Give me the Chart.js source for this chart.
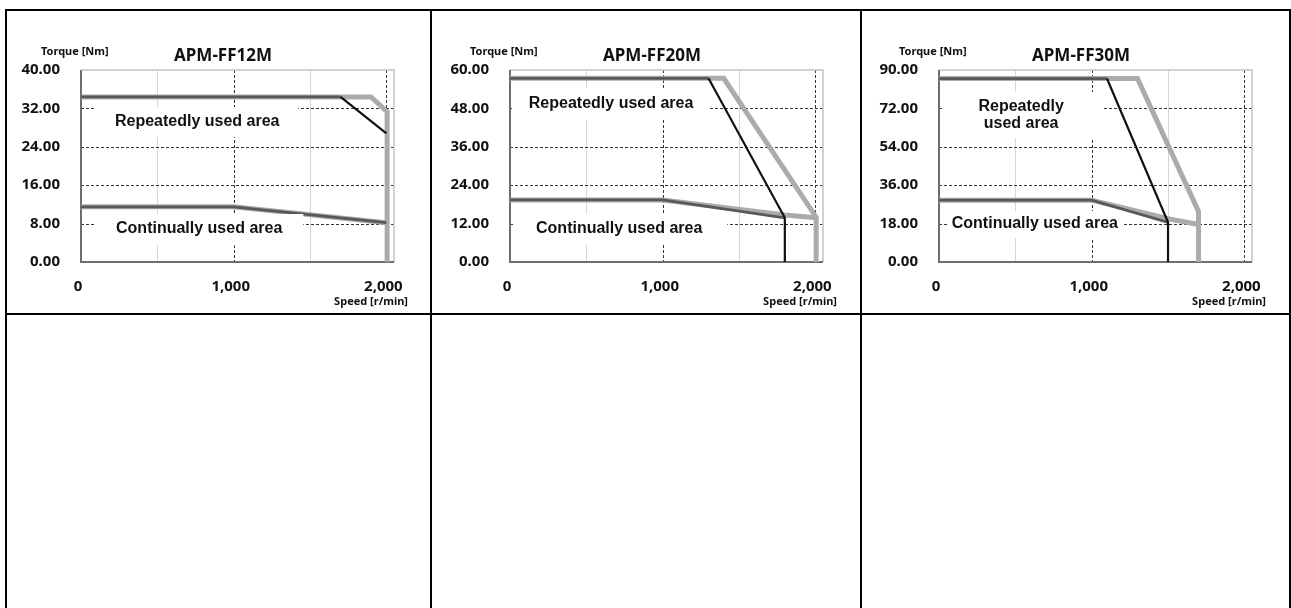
<!DOCTYPE html>
<html>
<head>
<meta charset="utf-8">
<title>APM-FF torque curves</title>
<script src="https://cdn.jsdelivr.net/npm/chart.js@4.4.0/dist/chart.umd.min.js"></script>
<style>
    html, body { margin: 0; padding: 0; background: #fff; overflow: hidden; }
    body { width: 1291px; height: 608px; position: relative; }
    .rule { position: absolute; background: #000; }
    canvas { position: absolute; }
</style>
</head>
<body>
<div class="rule" style="left:5px;top:9px;width:1286px;height:2px"></div>
<div class="rule" style="left:5px;top:313px;width:1286px;height:2px"></div>
<div class="rule" style="left:5px;top:9px;width:2px;height:600px"></div>
<div class="rule" style="left:430px;top:9px;width:2px;height:600px"></div>
<div class="rule" style="left:860px;top:9px;width:2px;height:600px"></div>
<div class="rule" style="left:1289px;top:9px;width:2px;height:600px"></div>

<canvas id="ff12" width="423" height="300" style="left:7px;top:12px"></canvas>
<canvas id="ff20" width="423" height="300" style="left:436px;top:12px"></canvas>
<canvas id="ff30" width="423" height="300" style="left:865px;top:12px"></canvas>

<script>
// speed axis, shared
const xTicks = [0, 1000, 2000];
const xTickLabels = ['0', '1,000', '2,000'];
const xMinorGrid = [500, 1500];
const xMax = 2050;

// APM-FF12M  [speed r/min, torque Nm]
const ff12Ticks = [0, 8, 16, 24, 32, 40];
const ff12RepWide = [[0, 34.4], [1900, 34.4], [2005, 31.3], [2005, 0]];
const ff12ContWide = [[0, 11.5], [1000, 11.5], [2000, 8.2]];
const ff12RepFlat = [[0, 34.4], [1700, 34.4]];
const ff12RepDrop = [[1700, 34.4], [2000, 26.8]];
const ff12Cont = [[0, 11.5], [1000, 11.5], [2000, 8.2]];

// APM-FF20M
const ff20Ticks = [0, 12, 24, 36, 48, 60];
const ff20RepWide = [[0, 57.4], [1400, 57.4], [2005, 14], [2005, 0]];
const ff20ContWide = [[0, 19.4], [1000, 19.4], [1800, 14.7], [2005, 13.8]];
const ff20RepFlat = [[0, 57.4], [1300, 57.4]];
const ff20RepDrop = [[1300, 57.4], [1800, 13.8], [1800, 0]];
const ff20Cont = [[0, 19.4], [1000, 19.4], [1800, 13.8]];

// APM-FF30M
const ff30Ticks = [0, 18, 36, 54, 72, 90];
const ff30RepWide = [[0, 86], [1300, 86], [1700, 23.6], [1700, 0]];
const ff30ContWide = [[0, 29], [1000, 29], [1500, 20.3], [1700, 17.6]];
const ff30RepFlat = [[0, 86], [1100, 86]];
const ff30RepDrop = [[1100, 86], [1500, 18.6], [1500, 0]];
const ff30Cont = [[0, 29], [1000, 29], [1500, 18.6]];

const tickFont = '"Noto Sans", "DejaVu Sans", sans-serif';
const noteFont = 'bold 16px "Liberation Sans", Arial, sans-serif';

const toPoints = arr => arr.map(p => ({ x: p[0], y: p[1] }));

// grid, frame, boxes and captions
const motorPlugin = {
    id: 'motor',
    beforeDatasetsDraw(chart, args, opts) {
        const { ctx, chartArea: a, scales: { x, y } } = chart;
        ctx.save();
        ctx.lineWidth = 1;
        ctx.strokeStyle = '#d6d6d6';
        xMinorGrid.forEach(v => {
            const px = Math.round(x.getPixelForValue(v)) + 0.5;
            ctx.beginPath(); ctx.moveTo(px, a.top); ctx.lineTo(px, a.bottom); ctx.stroke();
        });
        ctx.setLineDash([3, 2]);
        ctx.strokeStyle = '#333';
        xTicks.slice(1).forEach(v => {
            const px = Math.round(x.getPixelForValue(v)) + 0.5;
            ctx.beginPath(); ctx.moveTo(px, a.top); ctx.lineTo(px, a.bottom); ctx.stroke();
        });
        opts.ticks.slice(1, -1).forEach(v => {
            const py = Math.round(y.getPixelForValue(v)) + 0.5;
            ctx.beginPath(); ctx.moveTo(a.left, py); ctx.lineTo(a.right, py); ctx.stroke();
        });
        ctx.setLineDash([]);
        ctx.strokeStyle = '#c4c4c4';
        ctx.lineWidth = 1.5;
        ctx.beginPath();
        ctx.moveTo(a.left, a.top); ctx.lineTo(a.right, a.top); ctx.lineTo(a.right, a.bottom);
        ctx.stroke();
        ctx.strokeStyle = '#6e6e6e';
        ctx.lineWidth = 2;
        ctx.beginPath();
        ctx.moveTo(a.left, a.top); ctx.lineTo(a.left, a.bottom); ctx.lineTo(a.right, a.bottom);
        ctx.stroke();
        ctx.restore();
    },
    afterDatasetsDraw(chart, args, opts) {
        const { ctx, chartArea: a, scales: { x, y } } = chart;
        ctx.save();
        opts.notes.forEach(n => {
            const x0 = x.getPixelForValue(n.box[0]), x1 = x.getPixelForValue(n.box[1]);
            const y0 = y.getPixelForValue(n.box[2]), y1 = y.getPixelForValue(n.box[3]);
            ctx.fillStyle = '#fff';
            ctx.fillRect(x0, y0, x1 - x0, y1 - y0);
            ctx.fillStyle = '#111';
            ctx.font = noteFont;
            ctx.textAlign = 'center';
            ctx.textBaseline = 'middle';
            const cx = x.getPixelForValue(n.at[0]), cy = y.getPixelForValue(n.at[1]);
            const lh = 17;
            n.text.forEach((t, i) => {
                ctx.fillText(t, cx, cy + (i - (n.text.length - 1) / 2) * lh);
            });
        });
        ctx.fillStyle = '#111';
        ctx.textBaseline = 'middle';
        ctx.textAlign = 'center';
        ctx.font = 'bold 17px ' + tickFont;
        ctx.fillText(opts.title, a.left + 142, a.top - 14);
        ctx.textAlign = 'left';
        ctx.font = 'bold 11px ' + tickFont;
        ctx.fillText('Torque [Nm]', a.left - 40, a.top - 18);
        ctx.textAlign = 'right';
        ctx.fillText('Speed [r/min]', a.right + 14, a.bottom + 40);
        ctx.restore();
    }
};

function makeChart(id, title, yTicks, repWide, contWide, repFlat, repDrop, cont, notes) {
    const yMax = yTicks[yTicks.length - 1];
    return new Chart(document.getElementById(id), {
        type: 'line',
        data: {
            datasets: [{
                data: toPoints(repDrop),
                borderColor: '#111',
                borderWidth: 2.2
            }, {
                data: toPoints(repFlat),
                borderColor: '#585858',
                borderWidth: 2.8
            }, {
                data: toPoints(cont),
                borderColor: '#585858',
                borderWidth: 2.8
            }, {
                data: toPoints(repWide),
                borderColor: '#ababab',
                borderWidth: 5
            }, {
                data: toPoints(contWide),
                borderColor: '#ababab',
                borderWidth: 5
            }]
        },
        options: {
            responsive: false,
            animation: false,
            events: [],
            elements: {
                point: { radius: 0 },
                line: { tension: 0, fill: false, borderJoinStyle: 'miter', borderCapStyle: 'butt' }
            },
            layout: { padding: { top: 58, right: 36, left: 0, bottom: 0 } },
            plugins: {
                legend: { display: false },
                tooltip: { enabled: false },
                motor: { title: title, ticks: yTicks, notes: notes }
            },
            scales: {
                x: {
                    type: 'linear',
                    min: 0,
                    max: xMax,
                    grid: { display: false, drawTicks: false },
                    border: { display: false },
                    afterFit: s => { s.height = 50; },
                    afterBuildTicks: s => { s.ticks = xTicks.map(v => ({ value: v })); },
                    ticks: {
                        padding: 16,
                        labelOffset: -3,
                        maxRotation: 0,
                        autoSkip: false,
                        color: '#111',
                        font: { family: tickFont, size: 15, weight: 'bold' },
                        callback: (v, i) => xTickLabels[i]
                    }
                },
                y: {
                    min: 0,
                    max: yMax,
                    grid: { display: false, drawTicks: false },
                    border: { display: false },
                    afterFit: s => { s.width = 74; },
                    afterBuildTicks: s => { s.ticks = yTicks.map(v => ({ value: v })); },
                    ticks: {
                        padding: 21,
                        autoSkip: false,
                        color: '#111',
                        font: { family: tickFont, size: 15, weight: 'bold' },
                        callback: v => v.toFixed(2)
                    }
                }
            }
        },
        plugins: [motorPlugin]
    });
}

makeChart('ff12', 'APM-FF12M', ff12Ticks, ff12RepWide, ff12ContWide, ff12RepFlat, ff12RepDrop, ff12Cont, [
    { text: ['Repeatedly used area'], at: [761, 29.2], box: [98, 1423, 32.3, 26.0] },
    { text: ['Continually used area'], at: [774, 6.9], box: [98, 1456, 10.0, 3.5] }
]);

makeChart('ff20', 'APM-FF20M', ff20Ticks, ff20RepWide, ff20ContWide, ff20RepFlat, ff20RepDrop, ff20Cont, [
    { text: ['Repeatedly used area'], at: [662, 49.4], box: [13, 1311, 54.4, 44.4] },
    { text: ['Continually used area'], at: [715, 10.3], box: [20, 1423, 15.0, 5.3] }
]);

makeChart('ff30', 'APM-FF30M', ff30Ticks, ff30RepWide, ff30ContWide, ff30RepFlat, ff30RepDrop, ff30Cont, [
    { text: ['Repeatedly', 'used area'], at: [538, 68.7], box: [20, 1069, 79.7, 58.0] },
    { text: ['Continually used area'], at: [628, 17.8], box: [61, 1209, 23.9, 11.2] }
]);
</script>
</body>
</html>
